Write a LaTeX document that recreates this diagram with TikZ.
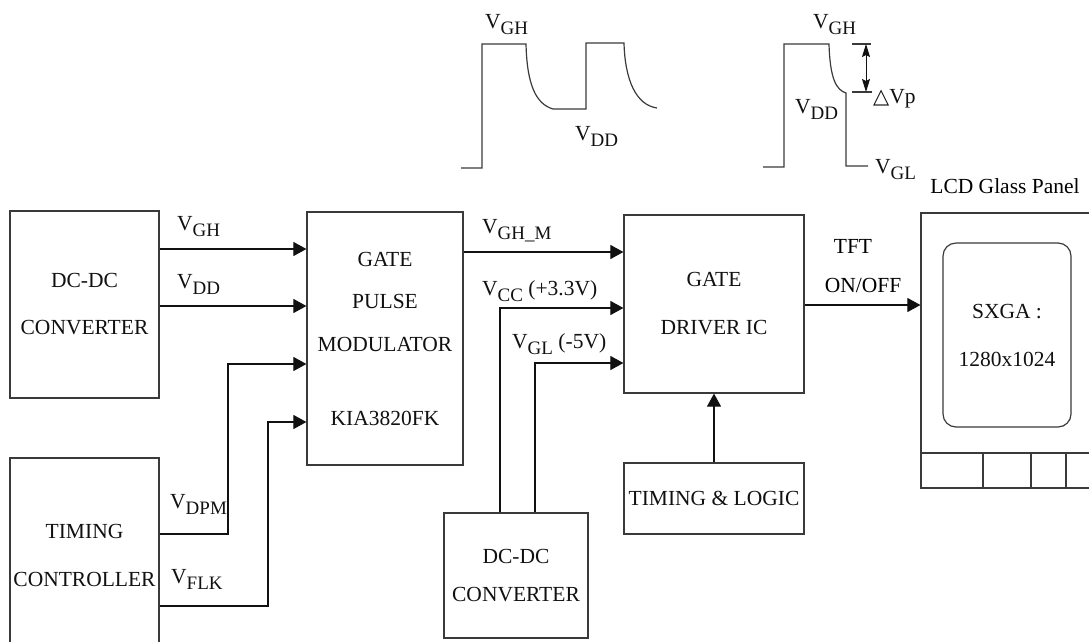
\documentclass[tikz,border=0pt]{standalone}
\usepackage{fontspec}
\setmainfont{Liberation Serif}
\newfontfamily\symfont{DejaVu Sans}
\usepackage{xcolor}
\usetikzlibrary{arrows.meta,calc}
\definecolor{ink}{HTML}{111111}
\definecolor{frame}{HTML}{3A3A3A}
\tikzset{
  font=\fontsize{21.5}{24}\selectfont,
  block/.style={
    draw=frame, line width=1.2pt, fill=white, text=ink, align=center,
    inner sep=0pt
  },
  sig/.style={-{Triangle[length=13pt,width=14pt]}, line width=1.1pt, draw=ink},
  wire/.style={line width=1.1pt, draw=frame},
  wave/.style={line width=1.2pt, draw=frame},
  lbl/.style={anchor=base west, inner sep=0pt, text=ink},
  dimarrow/.style={{Stealth[length=13pt,width=8pt,inset=2pt]}-{Stealth[length=13pt,width=8pt,inset=2pt]}, line width=1pt, draw=ink}
}
\newcommand{\vsub}[1]{V\raisebox{-6.5pt}{\fontsize{19}{19}\selectfont #1}}

\begin{document}
\begin{tikzpicture}[x=1pt,y=-1pt]
  \useasboundingbox (0,0) rectangle (1089,641);

  % ---- Blocks ----
  \node[block, minimum width=149pt, minimum height=187pt] (dcdcA) at (84.5,304.5) {DC-DC\\[23pt]CONVERTER};
  \node[block, minimum width=149pt, minimum height=194pt] (tcon) at (84.5,555) {TIMING\\[24pt]CONTROLLER};
  \node[block, minimum width=156pt, minimum height=253pt] (gpm) at (385,338.5)
     {GATE\\[18pt]PULSE\\[19pt]MODULATOR\\[50pt]KIA3820FK};
  \node[block, minimum width=180pt, minimum height=178pt] (gdrv) at (714,304) {GATE\\[24pt]DRIVER IC};
  \node[block, minimum width=144pt, minimum height=125pt] (dcdcB) at (516,575.5) {DC-DC\\[14pt]CONVERTER};
  \node[block, minimum width=180pt, minimum height=71pt] (tlog) at (714,498.5) {TIMING \& LOGIC};

  % ---- LCD panel ----
  \node[block, minimum width=179pt, minimum height=275pt] (lcd) at (1010.5,350.5) {};
  \node[block, rounded corners=13pt, minimum width=128pt, minimum height=184pt] (sxga) at (1007,335)
     {SXGA :\\[24pt]1280x1024};
  \draw[wire] (lcd.west |- 0,453) -- (lcd.east |- 0,453);
  \foreach \x in {983,1031,1066}
    \draw[wire] (\x,453) -- (\x,0 |- lcd.south);
  \node[anchor=base, inner sep=0pt] (lpanel) at (1005,193) {LCD Glass Panel};

  % ---- Edges ----
  \draw[sig] (dcdcA.east |- 0,249) -- (gpm.west |- 0,249);
  \draw[sig] (dcdcA.east |- 0,306) -- (gpm.west |- 0,306);
  \draw[sig] (tcon.east |- 0,534) -- (228,534) -- (228,364) -- (gpm.west |- 0,364);
  \draw[sig] (tcon.east |- 0,606) -- (268,606) -- (268,422) -- (gpm.west |- 0,422);
  \draw[sig] (gpm.east |- 0,252) -- (gdrv.west |- 0,252);
  \draw[sig] (500,0 |- dcdcB.north) -- (500,308) -- (gdrv.west |- 0,308);
  \draw[sig] (535,0 |- dcdcB.north) -- (535,363) -- (gdrv.west |- 0,363);
  \draw[sig] (tlog.north) -- (gdrv.south);
  \draw[sig] (gdrv.east |- 0,305) -- (lcd.west |- 0,305);

  % ---- Edge labels ----
  \node[lbl] (lvgh) at (177,230) {\vsub{GH}};
  \node[lbl] (lvdd) at (177,288) {\vsub{DD}};
  \node[lbl] (lvdpm) at (170,508) {\vsub{DPM}};
  \node[lbl] (lvflk) at (171,583) {\vsub{FLK}};
  \node[lbl] (lvghm) at (482,233) {\vsub{GH\_M}};
  \node[lbl] (lvcc) at (482,295) {\vsub{CC} (+3.3V)};
  \node[lbl] (lvgl) at (512,348) {\vsub{GL} (-5V)};
  \node[anchor=base, inner sep=0pt] (ltft) at (853,253) {TFT};
  \node[anchor=base, inner sep=0pt] (lonoff) at (863,292) {ON/OFF};

  % ---- Waveforms ----
  \draw[wave] (461,168) -- (482,168) -- (482,44) -- (526,44)
     .. controls (527,85) and (536,104) .. (553,109) -- (586,109) -- (586,43) -- (624,43)
     .. controls (625,80) and (636,105) .. (657,108);
  \node[lbl] (wgh1) at (485,28) {\vsub{GH}};
  \node[lbl] (wdd1) at (575,140) {\vsub{DD}};

  \draw[wave] (763,167) -- (784,167) -- (784,44) -- (829,44)
     .. controls (830,78) and (836,90) .. (846,93) -- (846,166) -- (868,166);
  \node[lbl] (wgh2) at (813,28) {\vsub{GH}};
  \node[lbl] (wdd2) at (795,113) {\vsub{DD}};
  \node[lbl] (wgl2) at (875,173) {\vsub{GL}};
  \draw[wire] (852,44) -- (871,44);
  \draw[wire] (852,92) -- (872,92);
  \draw[dimarrow] (866,44) -- (866,92);
  \node[lbl] (wdvp) at (873,103) {{\symfont\fontsize{21}{21}\selectfont △}Vp};
\end{tikzpicture}
\end{document}
